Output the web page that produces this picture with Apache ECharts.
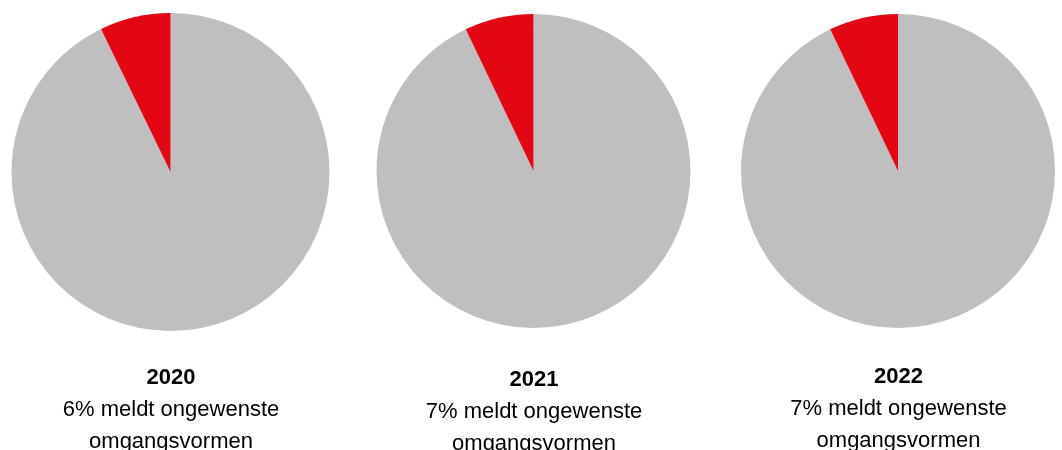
<!DOCTYPE html>
<html>
<head>
<meta charset="utf-8">
<script src="https://cdn.jsdelivr.net/npm/echarts@6/dist/echarts.min.js"></script>
<style>
  html, body { margin: 0; padding: 0; background: #fff; }
  #chart { width: 1062px; height: 450px; }
</style>
</head>
<body>
<div id="chart"></div>
<script>
// jaartallen en percentages zoals
const years = ['2020', '2021', '2022'];
const labelPct = ['6%', '7%', '7%'];
const meldt = [7.2, 7.1, 7.1];
const overig = [92.8, 92.9, 92.9];

const centers = [[170.5, 172], [533.5, 171], [898, 171]];
const radii = [159, 157, 157];
const textTops = [357, 359, 356];

const myChart = echarts.init(document.getElementById('chart'));

const series = years.map((y, i) => ({
    type: 'pie',
    center: centers[i],
    radius: [0, radii[i]],
    startAngle: 90,
    clockwise: true,
    silent: true,
    label: { show: false },
    labelLine: { show: false },
    emphasis: { disabled: true },
    data: [
        { name: 'overig', value: overig[i], itemStyle: { color: '#bfbfbf' } },
        { name: 'meldt ongewenste omgangsvormen', value: meldt[i], itemStyle: { color: '#e30613' } }
    ]
}));

// titel onder elke taart, horizontaal gecentreerd (padding van title compenseren)
const title = years.map((y, i) => ({
    text: '{b|' + y + '}\n' + labelPct[i] + ' meldt ongewenste\nomgangsvormen',
    left: centers[i][0] - 4.5,
    top: textTops[i],
    textAlign: 'center',
    textStyle: {
        fontFamily: 'Liberation Sans, Arial, sans-serif',
        fontSize: 22,
        fontWeight: 'normal',
        color: '#000',
        lineHeight: 32,
        rich: {
            b: { fontFamily: 'Liberation Sans, Arial, sans-serif', fontSize: 22, fontWeight: 'bold', color: '#000', lineHeight: 32 }
        }
    }
}));

myChart.setOption({
    animation: false,
    title: title,
    series: series
});
</script>
</body>
</html>
